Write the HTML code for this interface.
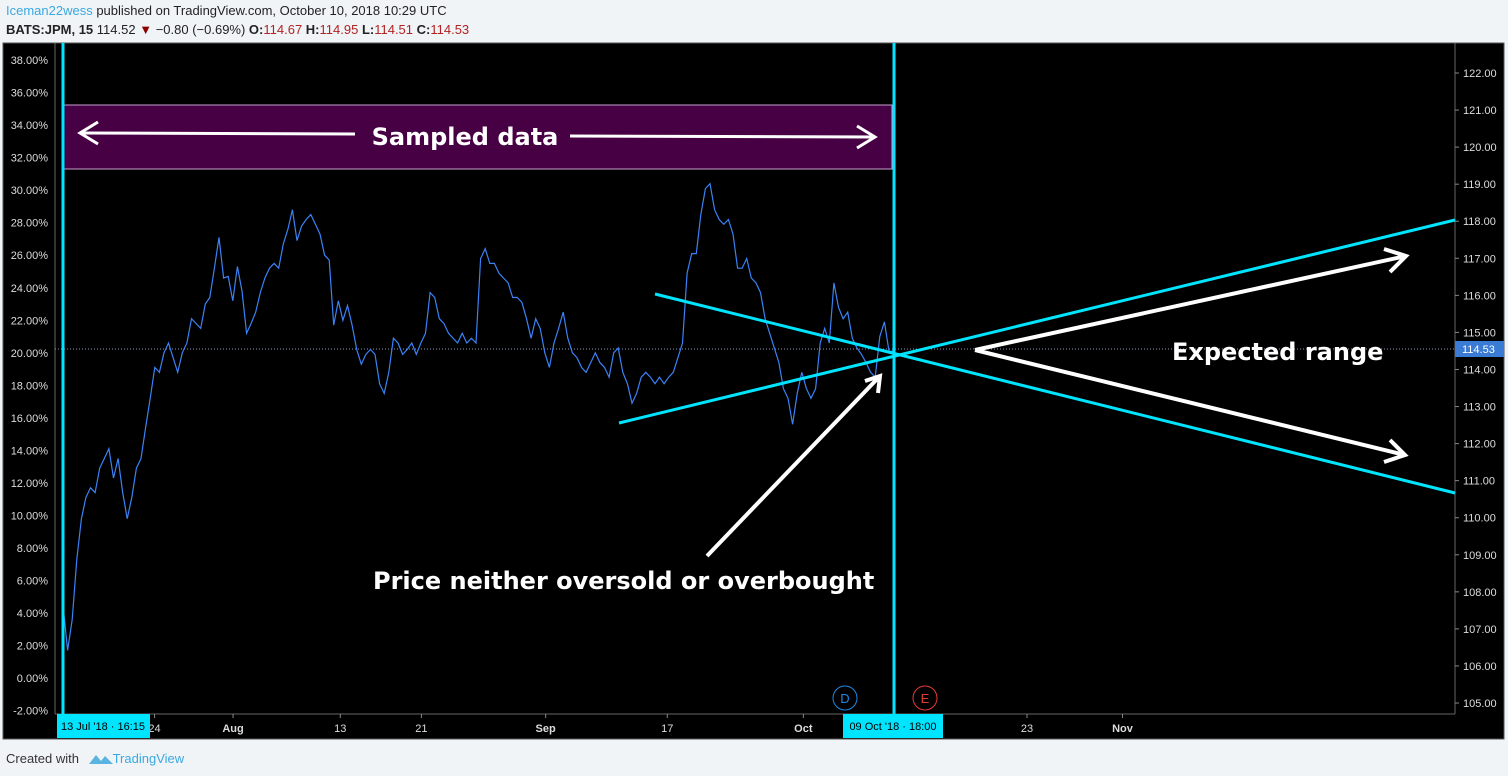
<!DOCTYPE html>
<html><head><meta charset="utf-8">
<style>
body{margin:0;width:1508px;height:776px;background:#f1f4f7;font-family:"Liberation Sans",sans-serif;overflow:hidden;position:relative}
.hdr{position:absolute;left:6px;font-size:13px;color:#222}
.big{font-family:"DejaVu Sans","Liberation Sans",sans-serif;font-weight:bold}
</style></head>
<body>
<div class="hdr" style="top:3px"><span style="color:#3aa8e0">Iceman22wess</span> published on TradingView.com, October 10, 2018 10:29 UTC</div>
<div class="hdr" style="top:22px"><b>BATS:JPM, 15</b> 114.52 <span style="color:#8b0000">▼</span> −0.80 (−0.69%) <b>O:</b><span style="color:#b22222">114.67</span> <b>H:</b><span style="color:#b22222">114.95</span> <b>L:</b><span style="color:#b22222">114.51</span> <b>C:</b><span style="color:#b22222">114.53</span></div>
<svg width="1508" height="776" style="position:absolute;left:0;top:0" id="chart">
<rect x="3" y="43" width="1501" height="696" fill="#000" stroke="#555"/>
<line x1="55" y1="43" x2="55" y2="714" stroke="#666"/>
<line x1="1455" y1="43" x2="1455" y2="714" stroke="#666"/>
<line x1="55" y1="714" x2="1455" y2="714" stroke="#666"/>
<g id="axes"></g>
<line x1="55" y1="349" x2="1455" y2="349" stroke="#8899bb" stroke-dasharray="1,2"/>
<g id="series"></g>
<rect x="64" y="105" width="828" height="64" fill="#470044" stroke="#c9a0d0" stroke-width="1"/>
<text class="big" x="465" y="145" fill="#fff" font-size="24" text-anchor="middle">Sampled data</text>
<g stroke="#fff" stroke-width="3" fill="none">
<line x1="80" y1="133" x2="355" y2="134"/><polyline points="98,122 80,133 98,144"/>
<line x1="570" y1="136" x2="875" y2="137"/><polyline points="857,126 875,137 857,148"/>
</g>
<line x1="63" y1="43" x2="63" y2="714" stroke="#00e5ff" stroke-width="3"/>
<line x1="894" y1="43" x2="894" y2="714" stroke="#00e5ff" stroke-width="3"/>
<line x1="655" y1="294" x2="1455" y2="493" stroke="#00e5ff" stroke-width="3"/>
<line x1="619" y1="423" x2="1455" y2="220" stroke="#00e5ff" stroke-width="3"/>
<g stroke="#fff" stroke-width="4" fill="none">
<line x1="975" y1="350" x2="1406" y2="256"/><polyline points="1384,249 1406,256 1390,272"/>
<line x1="975" y1="350" x2="1405" y2="455"/><polyline points="1390,440 1405,455 1384,462"/>
<line x1="707" y1="556" x2="880" y2="376"/><polyline points="865,381 880,376 878,393"/>
</g>
<text class="big" x="1172" y="360" fill="#fff" font-size="24">Expected range</text>
<text class="big" x="373" y="589" fill="#fff" font-size="24">Price neither oversold or overbought</text>
<circle cx="845" cy="698" r="12" fill="none" stroke="#1e88e5"/>
<text x="845" y="703" fill="#1e88e5" font-size="13" text-anchor="middle">D</text>
<circle cx="925" cy="698" r="12" fill="none" stroke="#e53935"/>
<text x="925" y="703" fill="#e53935" font-size="13" text-anchor="middle">E</text>
<g id="timeaxis"></g>
<rect x="57" y="714" width="93" height="24" fill="#00e5ff"/>
<text x="103" y="730" font-size="11" text-anchor="middle" fill="#000">13 Jul '18 · 16:15</text>
<rect x="843" y="714" width="100" height="24" fill="#00e5ff"/>
<text x="893" y="730" font-size="11" text-anchor="middle" fill="#000">09 Oct '18 · 18:00</text>
<rect x="1455" y="341" width="49" height="16" fill="#3a7bd5"/>
<text x="1462" y="353" font-size="11" fill="#fff">114.53</text>
</svg>
<div style="position:absolute;left:6px;top:751px;font-size:13px;color:#333">Created with <span style="color:#3aa8e0;margin-left:30px">TradingView</span></div>
<svg width="26" height="14" style="position:absolute;left:88px;top:752px"><path d="M1 12 L8 3 L13 9 L17 4 L25 12 Z" fill="#5ab4e0"/></svg>
<script>
const pctTicks=[38,36,34,32,30,28,26,24,22,20,18,16,14,12,10,8,6,4,2,0,-2];
const priceTicks=[122,121,120,119,118,117,116,115,114,113,112,111,110,109,108,107,106,105];
const timeLabels=["24","Aug","13","21","Sep","17","Oct","23","Nov"];
const timeDay=[7,13,21.2,27.4,36.9,46.2,56.6,73.7,81];
const series=[4.5,1.7,3.6,7.3,9.8,11.1,11.7,11.4,12.9,13.5,14.1,12.3,13.5,11.4,9.8,11.1,12.9,13.5,15.4,17.2,19.1,18.8,20.0,20.6,19.7,18.8,20.0,20.6,22.1,21.8,21.5,23.0,23.4,25.2,27.1,24.6,24.7,23.2,25.3,23.8,21.2,21.8,22.5,23.7,24.6,25.2,25.5,25.2,26.7,27.6,28.8,26.9,27.8,28.2,28.5,27.9,27.3,26.0,25.7,21.7,23.2,22.0,22.9,21.7,20.2,19.3,19.9,20.2,19.9,18.1,17.5,18.8,20.9,20.6,19.9,20.2,20.6,19.9,20.6,21.2,23.7,23.4,22.1,21.8,21.2,20.9,20.6,21.2,20.6,20.9,20.6,25.8,26.4,25.5,25.5,24.9,24.6,24.3,23.4,23.4,23.1,22.1,20.9,22.1,21.5,20.0,19.1,20.6,21.5,22.5,20.9,20.0,19.7,19.1,18.8,19.4,20.0,19.4,19.1,18.5,20.0,20.3,18.8,18.1,16.9,17.5,18.5,18.8,18.5,18.1,18.5,18.1,18.5,18.8,19.7,20.6,24.9,26.1,26.1,28.5,30.1,30.4,28.8,28.2,27.9,28.2,27.3,25.2,25.2,25.8,24.6,24.3,23.7,22.1,21.2,20.3,19.4,17.8,17.2,15.6,17.5,18.8,17.8,17.2,17.8,20.6,21.5,20.6,24.3,22.8,22.1,22.5,20.9,20.3,19.9,19.4,18.8,18.5,21.0,21.9,20.1,20.1];
const NS='http://www.w3.org/2000/svg';
const ax=document.getElementById('axes'),sg=document.getElementById('series'),ta=document.getElementById('timeaxis');
const yPct=p=>678-p*16.26;
const yPrice=v=>73+(122-v)*37.06;
const xDay=d=>63+d*13.08;
const seriesSpan=63.5;
const xIdx=i=>xDay(i*seriesSpan/(series.length-1));
function mk(tag,attrs,parent){const e=document.createElementNS(NS,tag);for(const k in attrs)e.setAttribute(k,attrs[k]);parent.appendChild(e);return e;}
pctTicks.forEach(p=>{
 const t=mk('text',{x:48,y:yPct(p)+4,'font-size':11,fill:'#ddd','text-anchor':'end'},ax);
 
 
 t.textContent=p.toFixed(2)+'%';
});
priceTicks.forEach(v=>{
 mk('line',{x1:1455,x2:1459,y1:yPrice(v),y2:yPrice(v),stroke:'#888'},ax);
 const t=mk('text',{x:1463,y:yPrice(v)+4,'font-size':11,fill:'#ddd'},ax);
 
 
 t.textContent=v.toFixed(2);
});
timeLabels.forEach((l,i)=>{
 const x=xDay(timeDay[i]);
 mk('line',{x1:x,x2:x,y1:714,y2:718,stroke:'#888'},ta);
 const t=mk('text',{x:x,y:732,'font-size':11,fill:'#ddd','text-anchor':'middle','font-weight':isNaN(+l)?'bold':'normal'},ta);
 
 
 t.textContent=l;
});
const pl=mk('polyline',{points:series.map((v,i)=>xIdx(i).toFixed(1)+','+yPct(v).toFixed(1)).join(' '),fill:'none',stroke:'#3b82f6','stroke-width':1.2},sg);


</script>
</body></html>
